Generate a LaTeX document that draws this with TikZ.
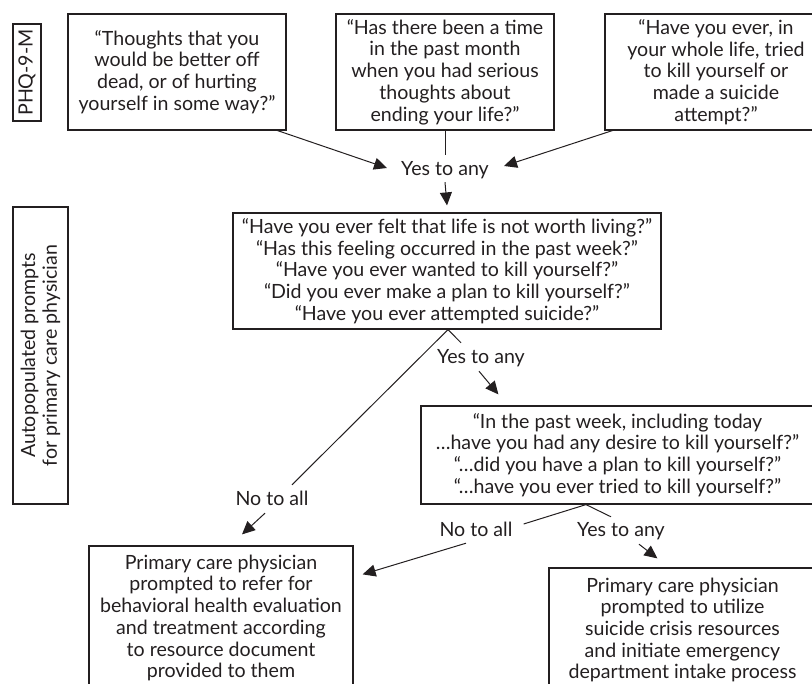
\documentclass[tikz,border=0pt]{standalone}
\usepackage{fontspec}
\setmainfont{Lato}
\usetikzlibrary{arrows.meta}
\usetikzlibrary{positioning}

\definecolor{tinta}{HTML}{231F20}

\tikzset{
  caixa/.style={draw=tinta, line width=1.2pt, text=tinta, align=center, inner sep=0pt},
  rotulo/.style={text=tinta, inner sep=0pt, text height=14pt, text depth=4pt},
  linha/.style={draw=tinta, line width=1pt},
  seta/.style={linha, -{Triangle[length=13pt,width=12pt]}}
}

\begin{document}
\begin{tikzpicture}[x=1pt,y=-1pt,font=\fontsize{19.6}{21.7}\selectfont]

\useasboundingbox (0,0) rectangle (812,684);
\clip (0,0) rectangle (812,684);

% caixas laterais
\node[caixa, rotate=90, minimum width=97pt, minimum height=28pt] (phq) at (27,72.5) {PHQ-9-M};
\node[caixa, rotate=90, minimum width=297pt, minimum height=55pt] (auto) at (40.5,355.5)
  {Autopopulated prompts\\for primary care physician};

% perguntas do PHQ-9-M
\node[caixa, minimum width=218pt, minimum height=116pt] (p1) at (177,72)
  {“Thoughts that you\\would be better off\\dead, or of hurting\\yourself in some way?”};
\node[caixa, minimum width=218pt, minimum height=116pt] (p2) at (445,72)
  {“Has there been a time\\in the past month\\when you had serious\\thoughts about\\ending your life?”};
\node[caixa, minimum width=222pt, minimum height=116pt] (p3) at (716,72)
  {“Have you ever, in\\your whole life, tried\\to kill yourself or\\made a suicide\\attempt?”};

% prompts
\node[caixa, minimum width=428pt, minimum height=116pt] (q1) at (447,271)
  {“Have you ever felt that life is not worth living?”\\
   “Has this feeling occurred in the past week?”\\
   “Have you ever wanted to kill yourself?”\\
   “Did you ever make a plan to kill yourself?”\\
   “Have you ever attempted suicide?”};
\node[caixa, minimum width=393pt, minimum height=98pt] (q2) at (617.5,455)
  {“In the past week, including today\\
   …have you had any desire to kill yourself?”\\
   “…did you have a plan to kill yourself?”\\
   “…have you ever tried to kill yourself?”};

% desfechos
\node[caixa, minimum width=264pt, minimum height=144pt] (ref) at (221,618)
  {Primary care physician\\prompted to refer for\\behavioral health evaluation\\and treatment according\\to resource document\\provided to them};
\node[caixa, minimum width=267pt, minimum height=124pt] (crise) at (682.5,630)
  {Primary care physician\\prompted to utilize\\suicide crisis resources\\and initiate emergency\\department intake process};

% rotulos
\node[rotulo] (sim1) at (445,171) {Yes to any};
\node[rotulo] (sim2) at (481,359) {Yes to any};
\node[rotulo] (nao1) at (272,501) {No to all};
\node[rotulo] (nao2) at (476,532) {No to all};
\node[rotulo] (sim3) at (621,532) {Yes to any};

% ligacoes
\draw[seta] ([xshift=-9pt]p1.south east) -- ([xshift=-14pt,yshift=3pt]sim1.west);
\draw[linha] (p2.south) -- ([yshift=7pt]sim1.north);
\draw[seta] ([xshift=8pt]p3.south west) -- ([xshift=15pt,yshift=5pt]sim1.east);
\draw[seta] ([yshift=-2pt]sim1.south) -- ([yshift=7pt]q1.north);

\draw[linha] ([xshift=1pt]q1.south) -- ([xshift=-20pt,yshift=7pt]sim2.north);
\draw[seta] ([xshift=-2pt,yshift=-3pt]sim2.south) -- ([xshift=78pt,yshift=11pt]q2.north west);
\draw[linha] ([xshift=1pt]q1.south) -- ([xshift=20pt,yshift=7pt]nao1.north);
\draw[seta] ([xshift=-7pt,yshift=-3pt]nao1.south) -- ([xshift=21pt,yshift=11pt]ref.north);

\draw[linha] ([xshift=-31.5pt]q2.south) -- ([xshift=11pt,yshift=8pt]nao2.east);
\draw[seta] ([xshift=-10pt,yshift=-2pt]nao2.south) -- ([xshift=9pt,yshift=-29pt]ref.north east);
\draw[linha] ([xshift=-31.5pt]q2.south) -- ([xshift=-10pt,yshift=6pt]sim3.north);
\draw[seta] ([xshift=18pt,yshift=-3pt]sim3.south) -- ([xshift=109pt,yshift=9pt]crise.north west);

\end{tikzpicture}
\end{document}
